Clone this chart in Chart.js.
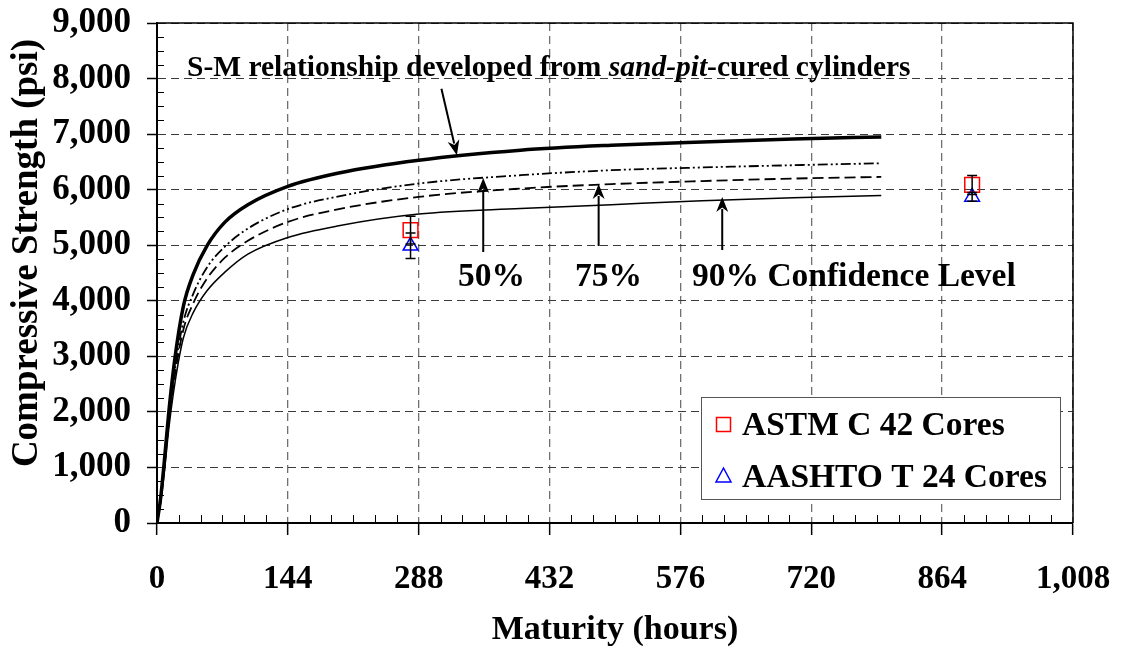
<!DOCTYPE html>
<html lang="en">
<head>
<meta charset="UTF-8">
<title>Compressive Strength vs Maturity</title>
<script src="https://cdn.jsdelivr.net/npm/chart.js@4"></script>
<style>
    body { margin: 0; background: #fff; }
    #wrap { width: 1125px; height: 647px; }
</style>
</head>
<body>
<div id="wrap"><canvas id="grafico" width="1125" height="647"></canvas></div>
<script>
// S-M curves (hours -> psi)
var maturityHours = [0, 4, 8, 13, 20, 29, 40, 55, 75, 100, 144, 200, 288, 400, 500, 600, 700, 797];
var strengthSM = [0, 450, 1100, 2000, 3000, 3900, 4480, 4990, 5420, 5730, 6060, 6300, 6530, 6710, 6800, 6860, 6910, 6950];
var strength50 = [0, 420, 1050, 1900, 2800, 3620, 4130, 4600, 4980, 5300, 5650, 5880, 6110, 6260, 6350, 6400, 6440, 6475];
var strength75 = [0, 400, 1000, 1820, 2700, 3480, 3960, 4400, 4780, 5080, 5420, 5650, 5870, 6020, 6100, 6155, 6200, 6230];
var strength90 = [0, 370, 900, 1700, 2550, 3330, 3790, 4180, 4520, 4840, 5140, 5350, 5560, 5660, 5730, 5800, 5855, 5895];

// cores
var coreHours = [279, 897];
var astmCores = [5270, 6085];
var astmErr = [250, 170];
var aashtoCores = [4990, 5870];
var aashtoErr = [230, 80];

var xTicks = [0, 144, 288, 432, 576, 720, 864, 1008];
var yTicks = [0, 1000, 2000, 3000, 4000, 5000, 6000, 7000, 8000, 9000];

var SERIF = '"Liberation Serif", "Times New Roman", serif';

function pares(xs, ys) {
    return xs.map(function (x, i) { return { x: x, y: ys[i] }; });
}

function semPadding(s) {
    s.paddingLeft = 0; s.paddingRight = 0; s.paddingTop = 0; s.paddingBottom = 0;
}

function seta(ctx, x1, y1, x2, y2) {
    var ang = Math.atan2(y2 - y1, x2 - x1);
    var len = 15, w = 6;
    ctx.beginPath();
    ctx.moveTo(x1, y1);
    ctx.lineTo(x2 - Math.cos(ang) * len * 0.8, y2 - Math.sin(ang) * len * 0.8);
    ctx.stroke();
    ctx.beginPath();
    ctx.moveTo(x2, y2);
    ctx.lineTo(x2 - Math.cos(ang) * len - Math.sin(ang) * w, y2 - Math.sin(ang) * len + Math.cos(ang) * w);
    ctx.lineTo(x2 - Math.cos(ang) * len * 0.7, y2 - Math.sin(ang) * len * 0.7);
    ctx.lineTo(x2 - Math.cos(ang) * len + Math.sin(ang) * w, y2 - Math.sin(ang) * len - Math.cos(ang) * w);
    ctx.closePath();
    ctx.fill();
}

var extras = {
    id: 'extras',
    beforeDatasetsDraw: function (chart) {
        var ctx = chart.ctx, a = chart.chartArea;
        var xs = chart.scales.x, ys = chart.scales.y;
        ctx.save();
        ctx.strokeStyle = '#000';
        ctx.lineWidth = 1;
        // minor ticks
        for (var v = 250; v < 9000; v += 250) {
            if (v % 1000 === 0) continue;
            var py = Math.round(ys.getPixelForValue(v)) + 0.5;
            ctx.beginPath(); ctx.moveTo(a.left, py); ctx.lineTo(a.left + 7, py); ctx.stroke();
        }
        for (var h = 24; h < 1008; h += 24) {
            if (h % 144 === 0) continue;
            var px = Math.round(xs.getPixelForValue(h)) + 0.5;
            ctx.beginPath(); ctx.moveTo(px, a.bottom); ctx.lineTo(px, a.bottom - 8); ctx.stroke();
        }
        // box top/right
        ctx.lineWidth = 1.5;
        ctx.beginPath();
        ctx.moveTo(a.left, a.top); ctx.lineTo(a.right, a.top); ctx.lineTo(a.right, a.bottom);
        ctx.stroke();
        ctx.restore();
    },
    afterDatasetsDraw: function (chart) {
        var ctx = chart.ctx;
        var xs = chart.scales.x, ys = chart.scales.y;
        ctx.save();

        // error bars
        ctx.strokeStyle = '#000';
        ctx.lineWidth = 1.5;
        chart.data.datasets.forEach(function (ds) {
            if (!ds.errors) return;
            ds.data.forEach(function (p, j) {
                var x = xs.getPixelForValue(p.x);
                var yt = ys.getPixelForValue(p.y + ds.errors[j]);
                var yb = ys.getPixelForValue(p.y - ds.errors[j]);
                ctx.beginPath();
                ctx.moveTo(x, yt); ctx.lineTo(x, yb);
                ctx.moveTo(x - 5, yt); ctx.lineTo(x + 5, yt);
                ctx.moveTo(x - 5, yb); ctx.lineTo(x + 5, yb);
                ctx.stroke();
            });
        });

        // y title
        ctx.fillStyle = '#000';
        ctx.font = 'bold 37px ' + SERIF;
        ctx.save();
        ctx.translate(37, 253);
        ctx.rotate(-Math.PI / 2);
        ctx.textAlign = 'center';
        ctx.textBaseline = 'alphabetic';
        ctx.fillText('Compressive Strength (psi)', 0, 0);
        ctx.restore();

        // curve title
        ctx.textAlign = 'left';
        ctx.textBaseline = 'alphabetic';
        var tx = 187, ty = 76;
        var partes = [
            ['bold 29.5px ', 'S-M relationship developed from '],
            ['italic bold 29.5px ', 'sand-pit'],
            ['bold 29.5px ', '-cured cylinders']
        ];
        partes.forEach(function (p) {
            ctx.font = p[0] + SERIF;
            ctx.fillText(p[1], tx, ty);
            tx += ctx.measureText(p[1]).width;
        });

        // arrows
        ctx.strokeStyle = '#000';
        ctx.fillStyle = '#000';
        ctx.lineWidth = 2;
        seta(ctx, xs.getPixelForValue(313), ys.getPixelForValue(7818), xs.getPixelForValue(330), ys.getPixelForValue(6620));
        seta(ctx, xs.getPixelForValue(359), ys.getPixelForValue(4878), xs.getPixelForValue(359), ys.getPixelForValue(6210));
        seta(ctx, xs.getPixelForValue(486), ys.getPixelForValue(4986), xs.getPixelForValue(486), ys.getPixelForValue(6102));
        seta(ctx, xs.getPixelForValue(622), ys.getPixelForValue(4914), xs.getPixelForValue(622), ys.getPixelForValue(5868));

        // confidence labels
        ctx.font = 'bold 33.5px ' + SERIF;
        ctx.fillText('50%', 458, 286);
        ctx.fillText('75%', 575, 286);
        ctx.fillText('90% Confidence Level', 692, 286);

        // legend
        ctx.fillStyle = '#fff';
        ctx.fillRect(701, 397, 359, 102);
        ctx.strokeStyle = '#555';
        ctx.lineWidth = 1;
        ctx.strokeRect(701.5, 397.5, 359, 102);
        var d0 = chart.data.datasets[0], d1 = chart.data.datasets[1];
        ctx.lineWidth = 1.5;
        ctx.strokeStyle = d0.pointBorderColor;
        ctx.strokeRect(716.5, 417.5, 14, 14);
        ctx.strokeStyle = d1.pointBorderColor;
        ctx.beginPath();
        ctx.moveTo(723.5, 468); ctx.lineTo(731, 482); ctx.lineTo(716, 482); ctx.closePath();
        ctx.stroke();
        ctx.fillStyle = '#000';
        ctx.font = 'bold 33.5px ' + SERIF;
        ctx.fillText(d0.label, 742, 435);
        ctx.fillText(d1.label, 742, 487);

        ctx.restore();
    }
};

var fonteX = { family: SERIF, size: 33, weight: 'bold' };
var fonteY = { family: SERIF, size: 35, weight: 'bold' };

var grafico = new Chart(document.getElementById('grafico').getContext('2d'), {
    type: 'line',
    data: {
        datasets: [{
            label: 'ASTM C 42 Cores',
            data: pares(coreHours, astmCores),
            errors: astmErr,
            showLine: false,
            pointStyle: 'rect',
            pointRadius: 10.4,
            pointBorderWidth: 1.5,
            pointBorderColor: '#ff0000',
            pointBackgroundColor: 'rgba(0,0,0,0)'
        }, {
            label: 'AASHTO T 24 Cores',
            data: pares(coreHours, aashtoCores),
            errors: aashtoErr,
            showLine: false,
            pointStyle: 'triangle',
            pointRadius: 8.5,
            pointBorderWidth: 1.5,
            pointBorderColor: '#0000ff',
            pointBackgroundColor: 'rgba(0,0,0,0)'
        }, {
            label: 'S-M sand-pit',
            data: pares(maturityHours, strengthSM),
            borderColor: '#000',
            borderWidth: 3.5,
            pointRadius: 0,
            cubicInterpolationMode: 'monotone'
        }, {
            label: '50%',
            data: pares(maturityHours, strength50),
            borderColor: '#000',
            borderWidth: 1.8,
            borderDash: [10, 3, 2, 3, 2, 3],
            pointRadius: 0,
            cubicInterpolationMode: 'monotone'
        }, {
            label: '75%',
            data: pares(maturityHours, strength75),
            borderColor: '#000',
            borderWidth: 1.8,
            borderDash: [11, 5],
            pointRadius: 0,
            cubicInterpolationMode: 'monotone'
        }, {
            label: '90%',
            data: pares(maturityHours, strength90),
            borderColor: '#000',
            borderWidth: 1.5,
            pointRadius: 0,
            cubicInterpolationMode: 'monotone'
        }]
    },
    options: {
        responsive: false,
        animation: false,
        devicePixelRatio: 1,
        layout: { padding: { top: 23, right: 52, left: 0, bottom: 0 } },
        plugins: { legend: { display: false }, tooltip: { enabled: false } },
        scales: {
            x: {
                type: 'linear',
                min: 0,
                max: 1008,
                afterBuildTicks: function (s) { s.ticks = xTicks.map(function (v) { return { value: v }; }); },
                afterFit: function (s) { s.height = 124; semPadding(s); },
                ticks: {
                    color: '#000',
                    font: fonteX,
                    padding: 25,
                    maxRotation: 0,
                    callback: function (v) { return v.toLocaleString('en-US'); }
                },
                grid: { color: '#707070', lineWidth: 1.3, tickColor: '#000', tickLength: 12, tickWidth: 1.5 },
                border: { color: '#000', width: 2, dash: [8, 5] },
                title: {
                    display: true, text: 'Maturity (hours)', color: '#000',
                    font: { family: SERIF, size: 34, weight: 'bold', lineHeight: 1.0 },
                    padding: { top: 0, bottom: 0 }
                }
            },
            y: {
                min: 0,
                max: 9000,
                afterBuildTicks: function (s) { s.ticks = yTicks.map(function (v) { return { value: v }; }); },
                afterFit: function (s) { s.width = 157; semPadding(s); },
                ticks: {
                    color: '#000',
                    font: fonteY,
                    padding: 16,
                    callback: function (v) { return v.toLocaleString('en-US'); }
                },
                grid: { color: '#3a3a3a', lineWidth: 1, tickColor: '#000', tickLength: 10, tickWidth: 1.5 },
                border: { color: '#000', width: 2, dash: [8, 5] }
            }
        }
    },
    plugins: [extras]
});
</script>
</body>
</html>
